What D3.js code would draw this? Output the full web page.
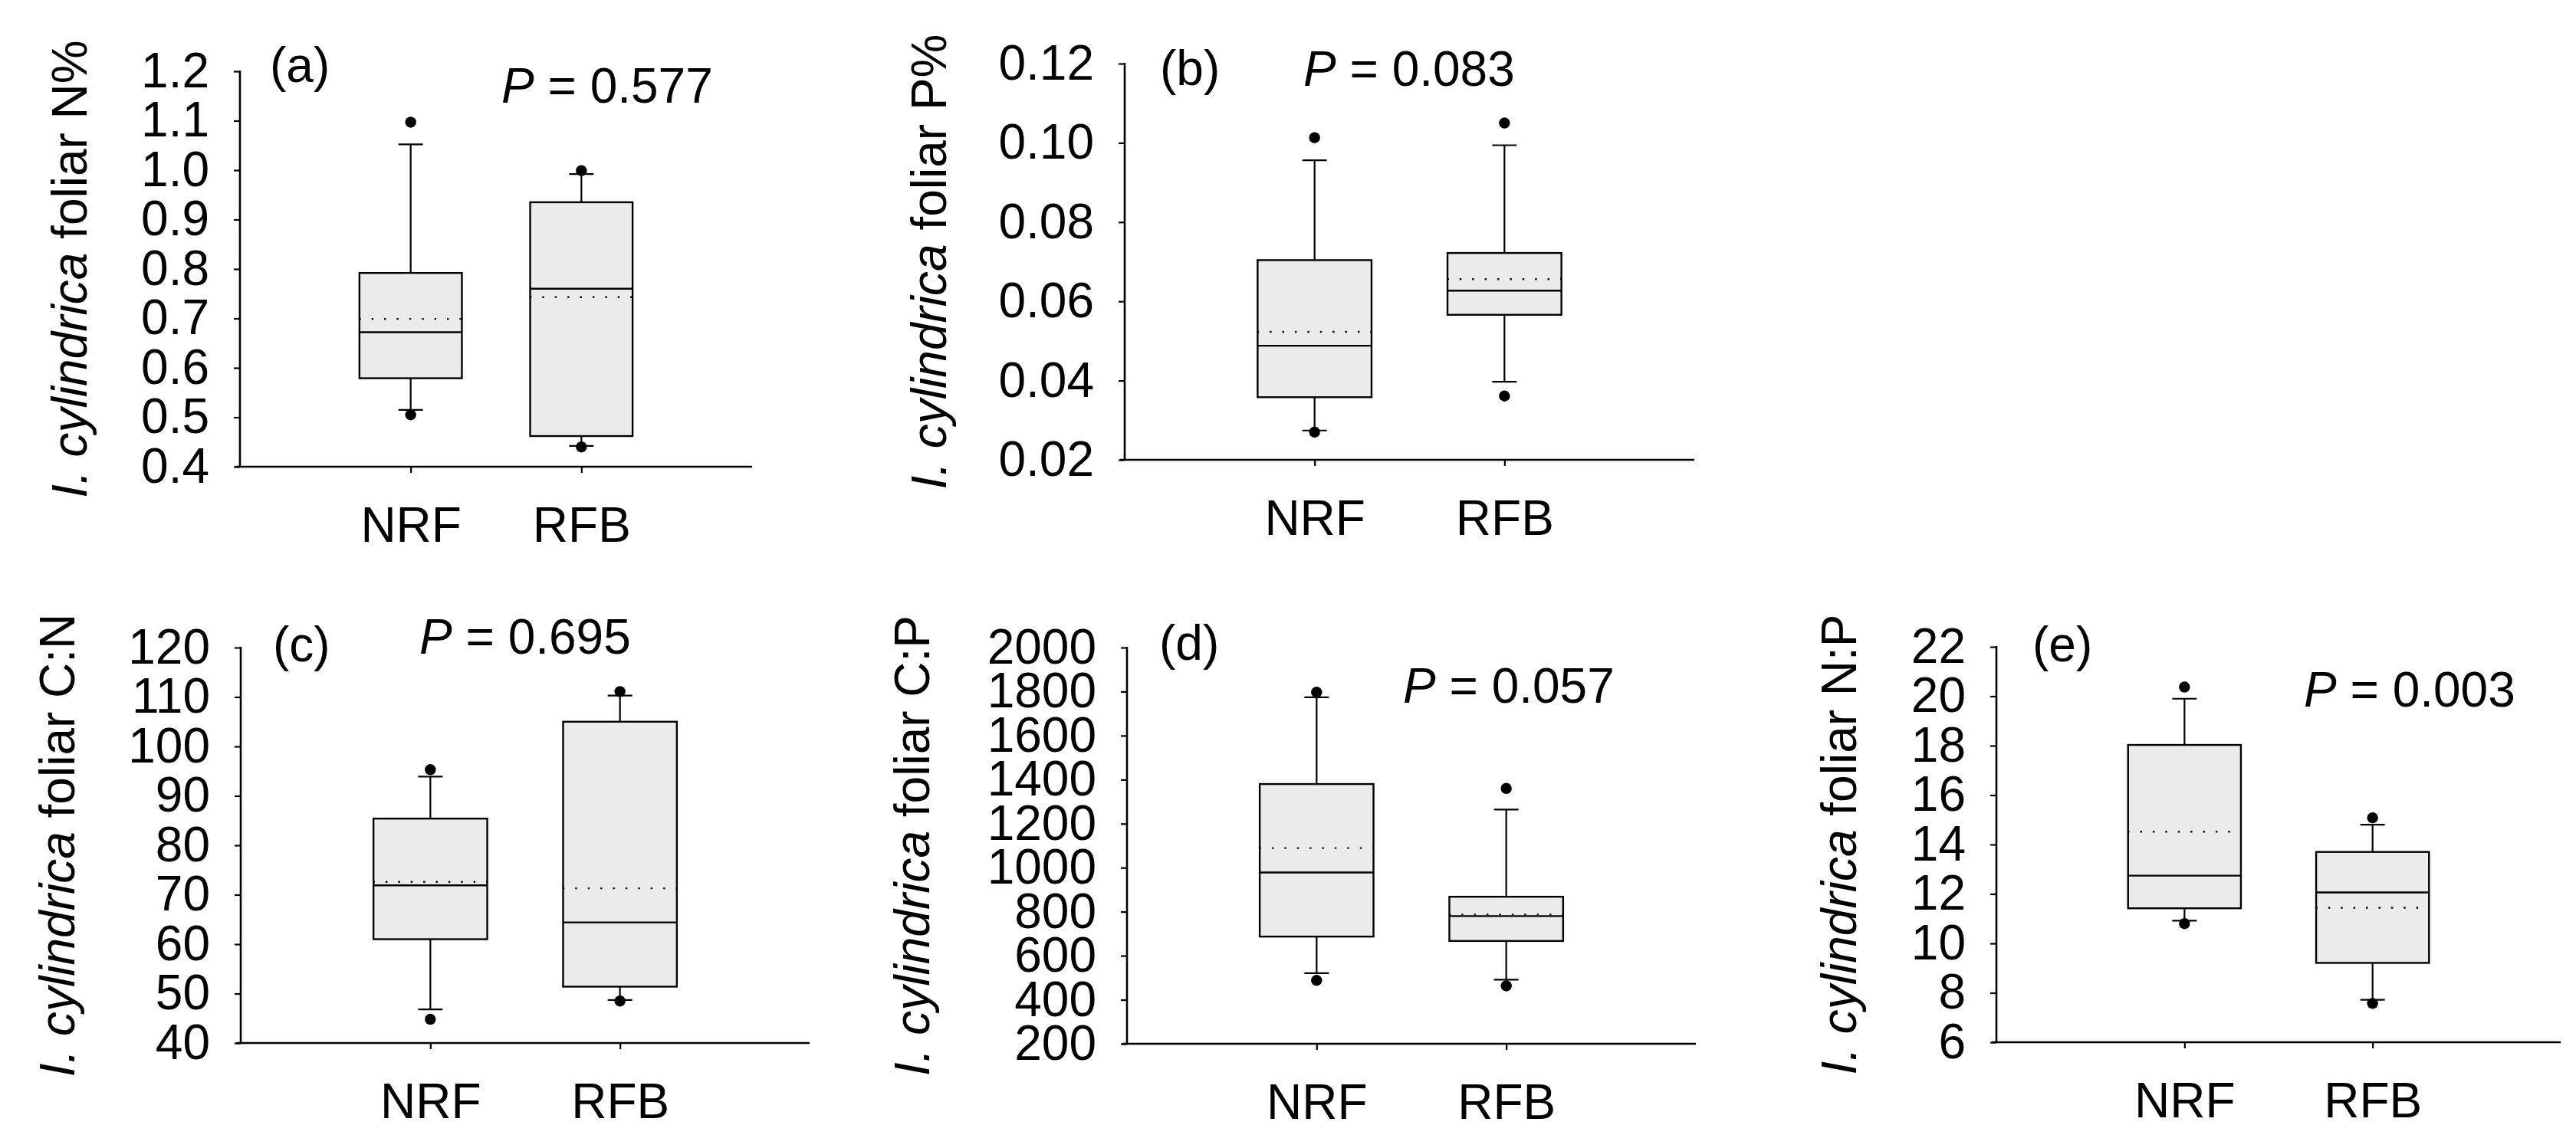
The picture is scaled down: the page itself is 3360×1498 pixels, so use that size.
<!DOCTYPE html>
<html>
<head>
<meta charset="utf-8">
<script src="https://cdn.jsdelivr.net/npm/d3@7"></script>
<style>
html,body{margin:0;padding:0;background:#fff;}
svg{display:block;}
</style>
</head>
<body>
<svg id="chart" width="3360" height="1498"></svg>
<script>
// ---------------- DATA ----------------
const categories = ["NRF", "RFB"];
const panelTags = ["(a)", "(b)", "(c)", "(d)", "(e)"];
const pValues = ["0.577", "0.083", "0.695", "0.057", "0.003"];
const yLabelItalic = "I. cylindrica";
const yLabelRest = [" foliar N%", " foliar P%", " foliar C:N", " foliar C:P", " foliar N:P"];

// y tick values per panel
const ticksN = [0.4, 0.5, 0.6, 0.7, 0.8, 0.9, 1.0, 1.1, 1.2];
const ticksP = [0.02, 0.04, 0.06, 0.08, 0.10, 0.12];
const ticksCN = [40, 50, 60, 70, 80, 90, 100, 110, 120];
const ticksCP = [200, 400, 600, 800, 1000, 1200, 1400, 1600, 1800, 2000];
const ticksNP = [6, 8, 10, 12, 14, 16, 18, 20, 22];
const tickFormats = [".1f", ".2f", "d", "d", "d"];

// box statistics: [outlierLow, whiskerLow, q1, median, q3, whiskerHigh, outlierHigh, mean]
const foliarN_NRF  = [0.505, 0.515, 0.579, 0.672, 0.792, 1.052, 1.097, 0.699];
const foliarN_RFB  = [0.440, 0.442, 0.462, 0.760, 0.935, 0.992, 0.999, 0.743];
const foliarP_NRF  = [0.0270, 0.0274, 0.0358, 0.0488, 0.0704, 0.0956, 0.1013, 0.0523];
const foliarP_RFB  = [0.0361, 0.0397, 0.0566, 0.0627, 0.0722, 0.0994, 0.1050, 0.0656];
const foliarCN_NRF = [44.8, 46.8, 61.0, 71.9, 85.4, 93.9, 95.3, 72.6];
const foliarCN_RFB = [48.5, 48.7, 51.4, 64.4, 105.0, 110.3, 111.1, 71.3];
const foliarCP_NRF = [488, 521, 687, 978, 1380, 1774, 1797, 1089];
const foliarCP_RFB = [463, 491, 667, 780, 868, 1264, 1360, 787];
const foliarNP_NRF = [10.80, 10.92, 11.42, 12.74, 18.03, 19.90, 20.37, 14.52];
const foliarNP_RFB = [7.57, 7.72, 9.21, 12.06, 13.70, 14.80, 15.08, 11.44];

// ---------------- LAYOUT ----------------
const layout = [
  {x0: 313,  x1: 981,  yTop: 93,  yBot: 609,  labelX: 113,  pX: 654,  pY: 134, tagX: 352,  tagY: 107},
  {x0: 1467, x1: 2210, yTop: 83,  yBot: 600,  labelX: 1234, pX: 1700, pY: 112, tagX: 1513, tagY: 111},
  {x0: 314,  x1: 1056, yTop: 845, yBot: 1361, labelX: 97,   pX: 547,  pY: 853, tagX: 356,  tagY: 863},
  {x0: 1470, x1: 2212, yTop: 845, yBot: 1362, labelX: 1212, pX: 1830, pY: 917, tagX: 1512, tagY: 861},
  {x0: 2604, x1: 3340, yTop: 844, yBot: 1360, labelX: 2421, pX: 3005, pY: 922, tagX: 2651, tagY: 863}
];

const panels = [
  {ticks: ticksN,  series: [foliarN_NRF,  foliarN_RFB]},
  {ticks: ticksP,  series: [foliarP_NRF,  foliarP_RFB]},
  {ticks: ticksCN, series: [foliarCN_NRF, foliarCN_RFB]},
  {ticks: ticksCP, series: [foliarCP_NRF, foliarCP_RFB]},
  {ticks: ticksNP, series: [foliarNP_NRF, foliarNP_RFB]}
];

const FONT = "'Liberation Sans', Arial, Helvetica, sans-serif";
const FS = 64;
const svg = d3.select("#chart");
svg.append("rect").attr("width", 3360).attr("height", 1498).attr("fill", "#fff");

panels.forEach((p, i) => {
  const L = layout[i];
  const g = svg.append("g");
  const y = d3.scaleLinear()
    .domain([d3.min(p.ticks), d3.max(p.ticks)])
    .range([L.yBot, L.yTop]);
  const x = d3.scaleLinear().domain([0, 3]).range([L.x0, L.x1]);
  const boxW = (x(0.6) - x(0));
  const capW = 32;

  // y axis
  const yAxis = d3.axisLeft(y)
    .tickValues(p.ticks)
    .tickFormat(d3.format(tickFormats[i]))
    .tickSize(8).tickSizeOuter(0).tickPadding(32);
  const ya = g.append("g").attr("transform", `translate(${L.x0},0)`).call(yAxis);
  ya.select(".domain").remove();
  ya.selectAll(".tick line").attr("stroke", "#000").attr("stroke-width", 2.2);
  ya.selectAll(".tick text").attr("font-size", FS).attr("font-family", FONT).attr("fill", "#000");
  g.append("line").attr("x1", L.x0).attr("x2", L.x0).attr("y1", L.yTop - 1).attr("y2", L.yBot)
    .attr("stroke", "#000").attr("stroke-width", 2.6);

  // x axis
  const xAxis = d3.axisBottom(x)
    .tickValues([1, 2])
    .tickFormat(d => categories[d - 1])
    .tickSize(8).tickSizeOuter(0).tickPadding(45);
  const xa = g.append("g").attr("transform", `translate(0,${L.yBot})`).call(xAxis);
  xa.select(".domain").remove();
  xa.selectAll(".tick line").attr("stroke", "#000").attr("stroke-width", 2.2);
  xa.selectAll(".tick text").attr("font-size", FS).attr("font-family", FONT).attr("fill", "#000");
  g.append("line").attr("x1", L.x0 - 6).attr("x2", L.x1).attr("y1", L.yBot).attr("y2", L.yBot)
    .attr("stroke", "#000").attr("stroke-width", 2.6);

  // boxes
  p.series.forEach((s, k) => {
    const cx = x(k + 1);
    const [oLo, wLo, q1, med, q3, wHi, oHi, mean] = s;
    const bg = g.append("g");
    // whiskers
    bg.append("line").attr("x1", cx).attr("x2", cx).attr("y1", y(q3)).attr("y2", y(wHi))
      .attr("stroke", "#000").attr("stroke-width", 2.2);
    bg.append("line").attr("x1", cx).attr("x2", cx).attr("y1", y(q1)).attr("y2", y(wLo))
      .attr("stroke", "#000").attr("stroke-width", 2.2);
    [wHi, wLo].forEach(v => {
      bg.append("line").attr("x1", cx - capW / 2).attr("x2", cx + capW / 2)
        .attr("y1", y(v)).attr("y2", y(v)).attr("stroke", "#000").attr("stroke-width", 2.2);
    });
    // box
    bg.append("rect").attr("x", cx - boxW / 2).attr("y", y(q3))
      .attr("width", boxW).attr("height", y(q1) - y(q3))
      .attr("fill", "#ebebeb").attr("stroke", "#000").attr("stroke-width", 2.4);
    // median
    bg.append("line").attr("x1", cx - boxW / 2).attr("x2", cx + boxW / 2)
      .attr("y1", y(med)).attr("y2", y(med)).attr("stroke", "#000").attr("stroke-width", 2.4);
    // mean (dotted)
    bg.append("line").attr("x1", cx - boxW / 2).attr("x2", cx + boxW / 2)
      .attr("y1", y(mean)).attr("y2", y(mean)).attr("stroke", "#000").attr("stroke-width", 2.4)
      .attr("stroke-dasharray", "2.4,14").attr("stroke-dashoffset", 0.6);
    // outliers
    [oLo, oHi].forEach(v => {
      bg.append("circle").attr("cx", cx).attr("cy", y(v)).attr("r", 7.2).attr("fill", "#000");
    });
  });

  // panel tag
  g.append("text").attr("x", L.tagX).attr("y", L.tagY)
    .attr("font-size", FS).attr("font-family", FONT).text(panelTags[i]);

  // P value
  const pt = g.append("text").attr("x", L.pX).attr("y", L.pY)
    .attr("font-size", FS).attr("font-family", FONT);
  pt.append("tspan").attr("font-style", "italic").text("P");
  pt.append("tspan").text(" = " + pValues[i]);

  // y label
  const cy = (L.yTop + L.yBot) / 2;
  const yl = g.append("text")
    .attr("transform", `translate(${L.labelX},${cy}) rotate(-90)`)
    .attr("text-anchor", "middle")
    .attr("font-size", FS).attr("font-family", FONT);
  yl.append("tspan").attr("font-style", "italic").text(yLabelItalic);
  yl.append("tspan").text(yLabelRest[i]);
});
</script>
</body>
</html>
